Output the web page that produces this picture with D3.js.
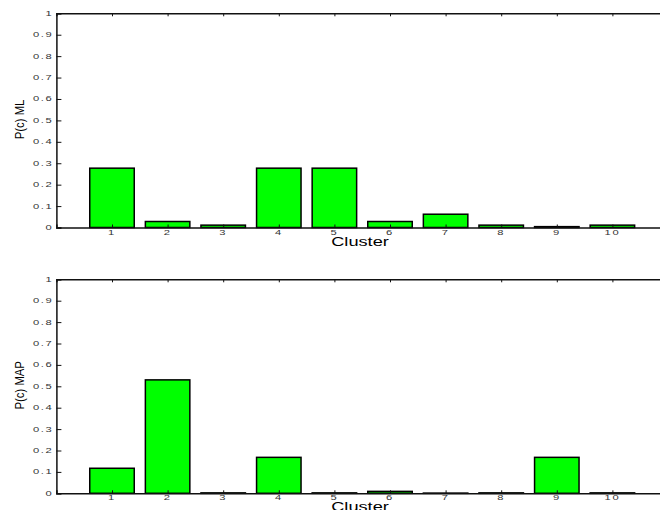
<!DOCTYPE html>
<html>
<head>
<meta charset="utf-8">
<script src="https://cdn.jsdelivr.net/npm/d3@7"></script>
<style>
  html, body { margin: 0; padding: 0; background: #fff; }
  svg { display: block; }
</style>
</head>
<body>
<div id="chart"></div>
<script>
// Cluster posterior probabilities, maximum likelihood vs. MAP estimates
const clusters = [1, 2, 3, 4, 5, 6, 7, 8, 9, 10];
const pML  = [0.277, 0.028, 0.011, 0.277, 0.277, 0.028, 0.062, 0.011, 0.004, 0.011];
const pMAP = [0.117, 0.530, 0.002, 0.168, 0.002, 0.009, 0.001, 0.002, 0.168, 0.002];
const yTicks = [0, 0.1, 0.2, 0.3, 0.4, 0.5, 0.6, 0.7, 0.8, 0.9, 1];
const yTickLabels = ["0", "0.1", "0.2", "0.3", "0.4", "0.5", "0.6", "0.7", "0.8", "0.9", "1"];

const W = 660, H = 510;
const svg = d3.select("#chart").append("svg")
  .attr("width", W).attr("height", H);

const x = d3.scaleLinear().domain([0, 11]).range([56.4, 668]);
const barHalf = 0.4;

const panels = [
  { values: pML,  label: "P(c) ML",  top: 13.3,  bottom: 227.5 },
  { values: pMAP, label: "P(c) MAP", top: 279.3, bottom: 493.3 }
];

const axisColor = "#111";
const font = "'Liberation Sans', Arial, Helvetica, sans-serif";

panels.forEach(p => {
  const y = d3.scaleLinear().domain([0, 1]).range([p.bottom, p.top]);
  const g = svg.append("g");

  // bars
  g.selectAll("rect.bar").data(clusters).join("rect")
    .attr("class", "bar")
    .attr("x", c => x(c - barHalf))
    .attr("width", c => x(c + barHalf) - x(c - barHalf))
    .attr("y", (c, i) => y(p.values[i]))
    .attr("height", (c, i) => y(0) - y(p.values[i]))
    .attr("fill", "#00ff00")
    .attr("stroke", "#000")
    .attr("stroke-width", 1.5);

  // left axis line and inward ticks
  const left = d3.axisRight(y).tickValues(yTicks).tickSize(5).tickFormat("");
  g.append("g").attr("transform", `translate(${x(0)},0)`).call(left)
    .call(a => a.select(".domain").attr("stroke", axisColor).attr("stroke-width", 1.5))
    .call(a => a.selectAll(".tick line").attr("stroke", axisColor));

  // y tick labels (small, wide glyphs)
  g.selectAll("g.ylab").data(yTicks).join("g")
    .attr("class", "ylab")
    .attr("transform", d => `translate(${x(0) - 3},${y(d) + 2.5}) scale(1.6,1)`)
    .append("text")
    .attr("text-anchor", "end")
    .attr("font-family", font)
    .attr("font-size", 7)
    .attr("letter-spacing", 1)
    .attr("fill", "#333")
    .text((d, i) => yTickLabels[i]);

  // bottom axis with inward ticks
  const bottom = d3.axisTop(x).tickValues(clusters).tickSize(3).tickFormat("");
  g.append("g").attr("transform", `translate(0,${y(0)})`).call(bottom)
    .call(a => a.select(".domain").attr("stroke", axisColor).attr("stroke-width", 1.5))
    .call(a => a.selectAll(".tick line").attr("stroke", axisColor));

  // top axis with inward ticks
  const topAx = d3.axisBottom(x).tickValues(clusters).tickSize(3).tickFormat("");
  g.append("g").attr("transform", `translate(0,${y(1)})`).call(topAx)
    .call(a => a.select(".domain").attr("stroke", axisColor).attr("stroke-width", 1.5))
    .call(a => a.selectAll(".tick line").attr("stroke", axisColor));

  // x tick labels
  g.selectAll("g.xlab").data(clusters).join("g")
    .attr("class", "xlab")
    .attr("transform", c => `translate(${x(c)},${y(0) + 7}) scale(1.6,1)`)
    .append("text")
    .attr("text-anchor", "middle")
    .attr("font-family", font)
    .attr("font-size", 7)
    .attr("letter-spacing", 1)
    .attr("fill", "#333")
    .text(c => String(c));

  // x axis title
  g.append("g")
    .attr("transform", `translate(360,${y(0) + 18}) scale(1.4,1)`)
    .append("text")
    .attr("text-anchor", "middle")
    .attr("font-family", font)
    .attr("font-size", 13)
    .attr("fill", "#000")
    .text("Cluster");

  // y axis title (condensed along its baseline)
  g.append("text")
    .attr("transform", `translate(24,${(y(0) + y(1)) / 2 - 1}) rotate(-90) scale(0.84,1)`)
    .attr("text-anchor", "middle")
    .attr("font-family", font)
    .attr("font-size", 13.5)
    .attr("fill", "#000")
    .text(p.label);
});
</script>
</body>
</html>
